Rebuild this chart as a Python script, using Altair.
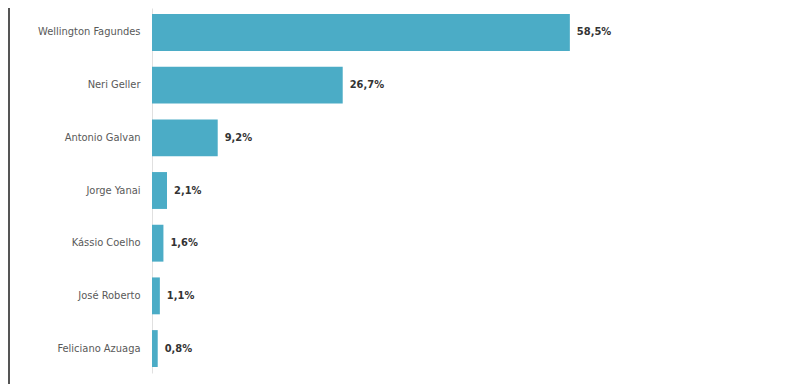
import altair as alt
import pandas as pd

candidates = ["Wellington Fagundes", "Neri Geller", "Antonio Galvan", "Jorge Yanai",
              "Kássio Coelho", "José Roberto", "Feliciano Azuaga"]
values = [58.5, 26.7, 9.2, 2.1, 1.6, 1.1, 0.8]
labels = [f"{v:.1f}".replace(".", ",") + "%" for v in values]

df = pd.DataFrame({"nome": candidates, "valor": values, "rotulo": labels})

FONT = "DejaVu Sans Condensed, Liberation Sans Narrow, sans-serif"

y_enc = alt.Y("nome:N", sort=candidates,
              scale=alt.Scale(paddingInner=0.3, paddingOuter=0.114),
              axis=alt.Axis(title=None, ticks=False, labelPadding=12, labelFontSize=11,
                            labelColor="#595959", labelFont=FONT, domainColor="#e0e0e0",
                            domainWidth=1, labelLimit=200))
x_enc = alt.X("valor:Q", scale=alt.Scale(domain=[0, 70]), axis=None)

base = alt.Chart(df)
bars = base.mark_bar(color="#4BACC6").encode(x=x_enc, y=y_enc)
text = base.mark_text(align="left", dx=7, fontSize=11, fontWeight="bold",
                      color="#333333", font=FONT).encode(x=x_enc, y=y_enc, text="rotulo:N")

border = alt.Chart(pd.DataFrame({"a": [0]})).mark_rule(color="#555555", strokeWidth=2).encode(
    x=alt.value(-143), y=alt.value(-1), y2=alt.value(376))

chart = alt.layer(bars, text, border).properties(
    width=500, height=365,
    autosize=alt.AutoSizeParams(type="none"),
    padding={"left": 144, "top": 0, "right": 0, "bottom": 11},
).configure_view(stroke=None)

chart.save("out.html", embed_options={"renderer": "svg", "actions": False})
